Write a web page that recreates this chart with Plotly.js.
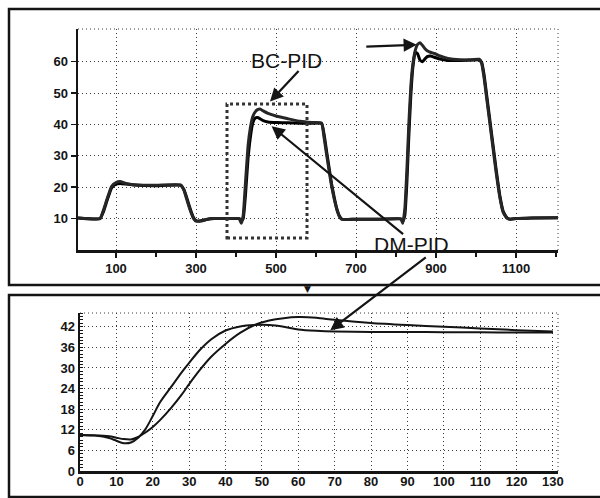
<!DOCTYPE html>
<html>
<head>
<meta charset="utf-8">
<script src="https://cdn.plot.ly/plotly-3.0.1.min.js"></script>
<style>html,body{margin:0;padding:0;background:#fff;}#chart{width:600px;height:498px;}</style>
</head>
<body>
<div id="chart"></div>
<script>
// ---- data: full run (top panel) ----
const topTime = [5, 60, 68, 77, 89, 100, 110, 125, 145, 200, 262, 270, 276, 282, 288, 294, 300, 312, 326, 345, 380, 408, 413, 418, 424, 430, 436, 442, 448, 454, 460, 468, 480, 502, 530, 560, 590, 614, 620, 627, 633, 639, 646, 652, 658, 664, 675, 700, 760, 812, 817, 822, 827, 832, 837, 842, 848, 854, 860, 866, 872, 878, 886, 896, 910, 930, 960, 990, 1008, 1014, 1020, 1027, 1035, 1043, 1050, 1060, 1068, 1077, 1086, 1100, 1140, 1205];
const topBC = [10.2, 10, 12.5, 16, 20.3, 21.5, 21.8, 21.2, 20.8, 20.6, 20.7, 19, 16.5, 14, 11.8, 10, 9.2, 9.2, 9.7, 10, 10, 10, 8.5, 11, 22, 33, 39, 42.5, 44, 44.7, 44.9, 44.3, 43.5, 42.6, 41.8, 41, 40.6, 40.4, 36, 30, 25, 20.3, 16, 12.9, 10.8, 9.8, 9.7, 9.8, 9.8, 9.9, 8.5, 13, 25, 40, 52, 59, 63.5, 65.5, 66, 65.2, 64.2, 63.5, 63, 62.6, 61.8, 61, 60.6, 60.6, 60.8, 59.5, 55, 48, 40, 32, 25, 16.5, 12, 10.2, 9.8, 10, 10.2, 10.3];
const topDM = [10.2, 10, 12, 15.5, 19.8, 21, 21.2, 21, 20.7, 20.5, 20.6, 19.2, 17, 14.5, 12.2, 10.3, 9.4, 9.3, 9.7, 10, 10, 10, 9.2, 10, 18, 29, 36, 40.5, 42, 42.2, 41.8, 41.2, 40.8, 40.6, 40.5, 40.4, 40.4, 40.3, 37, 31, 26, 21, 16.5, 13.2, 11, 9.9, 9.7, 9.8, 9.8, 9.9, 9.2, 11, 21, 36, 49, 58, 63, 62.5, 60.5, 60, 60.8, 61.6, 61.8, 61.4, 60.8, 60.4, 60.4, 60.5, 60.6, 59.8, 56, 49, 41, 33, 26, 17, 12.3, 10.3, 9.8, 10, 10.2, 10.3];

// ---- data: zoomed step (bottom panel) ----
const zoomTime = [0, 4, 8, 10, 12, 14, 16, 18, 20, 22, 25, 28, 30, 33, 36, 40, 44, 48, 52, 56, 60, 65, 70, 80, 90, 100, 110, 120, 130];
const zoomBC = [10.5, 10.4, 10.1, 9.7, 9.3, 9.2, 9.9, 11.2, 12.8, 14.8, 18.3, 22.3, 25.3, 29.5, 33.2, 37, 40.2, 42.5, 43.8, 44.5, 44.8, 44.6, 44.0, 43.1, 42.5, 42.0, 41.5, 41.0, 40.6];
const zoomDM = [10.5, 10.3, 9.6, 8.8, 8.1, 8.3, 9.7, 12.2, 16.0, 20.0, 24.4, 28.8, 31.5, 35.3, 38.3, 40.9, 42.1, 42.5, 42.5, 42.0, 41.2, 40.8, 40.6, 40.5, 40.5, 40.4, 40.4, 40.3, 40.3];

// ---- tick labels ----
const topXTicks = [100, 300, 500, 700, 900, 1100];
const topYTicks = [10, 20, 30, 40, 50, 60];
const zoomXTicks = [0, 10, 20, 30, 40, 50, 60, 70, 80, 90, 100, 110, 120, 130];
const zoomYTicks = [0, 6, 12, 18, 24, 30, 36, 42];

const ink = '#141414';
const gridCol = '#3a3a3a';
const gridDash = '1px,3px';
const tickFont = {family: 'Liberation Sans, Arial, sans-serif', size: 13, weight: 'bold', color: ink};
const labelFont = {family: 'Liberation Sans, Arial, sans-serif', size: 21, color: ink};

function px2x(p) { return p / 600; }
function px2y(p) { return 1 - p / 498; }

const traces = [
  {x: topTime, y: topDM, xaxis: 'x', yaxis: 'y', mode: 'lines', name: 'DM-PID',
   line: {color: '#000', width: 3, shape: 'spline', smoothing: 0.4}},
  {x: topTime, y: topBC, xaxis: 'x', yaxis: 'y', mode: 'lines', name: 'BC-PID',
   line: {color: '#262626', width: 3, shape: 'spline', smoothing: 0.4}},
  {x: zoomTime, y: zoomBC, xaxis: 'x2', yaxis: 'y2', mode: 'lines', name: 'BC-PID',
   line: {color: ink, width: 2, shape: 'spline', smoothing: 0.8}},
  {x: zoomTime, y: zoomDM, xaxis: 'x2', yaxis: 'y2', mode: 'lines', name: 'DM-PID',
   line: {color: ink, width: 2, shape: 'spline', smoothing: 0.8}}
];

const axisCommon = {
  showline: true, linewidth: 2.5, linecolor: ink, zeroline: false,
  showgrid: true, gridcolor: gridCol, gridwidth: 1, griddash: gridDash,
  ticks: 'outside', ticklen: 5, tickwidth: 1.5, tickcolor: ink,
  tickfont: tickFont, fixedrange: true
};

const layout = {
  width: 600, height: 498,
  margin: {l: 0, r: 0, t: 0, b: 0},
  paper_bgcolor: '#fff', plot_bgcolor: '#fff',
  showlegend: false,
  xaxis: Object.assign({}, axisCommon, {
    domain: [px2x(78), px2x(558)], anchor: 'y', range: [5, 1205],
    tickmode: 'array', tickvals: topXTicks,
    minor: {dtick: 100, tick0: 0, ticks: 'outside', ticklen: 4, tickwidth: 1.5, tickcolor: ink, showgrid: false}
  }),
  yaxis: Object.assign({}, axisCommon, {
    domain: [px2y(250), px2y(29)], anchor: 'x', range: [0, 70.4],
    tickmode: 'array', tickvals: topYTicks
  }),
  xaxis2: Object.assign({}, axisCommon, {
    domain: [px2x(80), px2x(558)], anchor: 'y2', range: [0, 131.4],
    tickmode: 'array', tickvals: zoomXTicks, ticks: '', ticklen: 0, ticklabelstandoff: -3
  }),
  yaxis2: Object.assign({}, axisCommon, {
    domain: [px2y(471), px2y(313)], anchor: 'x2', range: [0, 46],
    tickmode: 'array', tickvals: zoomYTicks, ticks: '', ticklen: 0,
    minor: {dtick: 1, ticks: 'inside', ticklen: 3, tickwidth: 1, tickcolor: ink, showgrid: false}
  }),
  shapes: [
    // panel frames
    {type: 'rect', xref: 'paper', yref: 'paper', x0: px2x(9), x1: 1.02, y0: px2y(285), y1: px2y(9),
     line: {color: ink, width: 2.5}},
    {type: 'rect', xref: 'paper', yref: 'paper', x0: px2x(9), x1: 1.02, y0: px2y(497), y1: px2y(295),
     line: {color: ink, width: 2.5}},
    // dotted top/right borders of plot areas
    {type: 'line', xref: 'x domain', yref: 'y domain', x0: 0, x1: 1, y0: 1, y1: 1, line: {color: gridCol, width: 1, dash: gridDash}},
    {type: 'line', xref: 'x domain', yref: 'y domain', x0: 1, x1: 1, y0: 0, y1: 1, line: {color: gridCol, width: 1, dash: gridDash}},
    {type: 'line', xref: 'x2 domain', yref: 'y2 domain', x0: 0, x1: 1, y0: 1, y1: 1, line: {color: gridCol, width: 1, dash: gridDash}},
    {type: 'line', xref: 'x2 domain', yref: 'y2 domain', x0: 1, x1: 1, y0: 0, y1: 1, line: {color: gridCol, width: 1, dash: gridDash}},
    // dotted zoom box
    {type: 'rect', xref: 'x', yref: 'y', x0: 377.5, x1: 577.5, y0: 3.8, y1: 46.5,
     line: {color: '#333', width: 3, dash: 'dot'}}
  ],
  annotations: [
    {text: 'BC-PID', xref: 'paper', yref: 'paper', x: px2x(286), y: px2y(47), showarrow: false, font: labelFont},
    {text: 'DM-PID', xref: 'paper', yref: 'paper', x: px2x(451), y: px2y(244), showarrow: false, font: labelFont},
    {text: '', xref: 'x', yref: 'y', x: 485, y: 47.3, ax: 30, ay: -32, showarrow: true,
     arrowhead: 2, arrowsize: 1.2, arrowwidth: 2.2, arrowcolor: ink},
    {text: '', xref: 'x', yref: 'y', x: 489, y: 39.4, ax: 133, ay: 109, showarrow: true,
     arrowhead: 2, arrowsize: 1.2, arrowwidth: 2.2, arrowcolor: ink},
    {text: '', xref: 'x2', yref: 'y2', x: 68.8, y: 41, ax: 97, ay: -74, showarrow: true,
     arrowhead: 2, arrowsize: 1.2, arrowwidth: 2.2, arrowcolor: ink},
    {text: '', xref: 'x', yref: 'y', x: 852, y: 65.4, ax: -52, ay: 2, showarrow: true,
     arrowhead: 2, arrowsize: 1.2, arrowwidth: 2.2, arrowcolor: ink},
    {text: '▼', xref: 'paper', yref: 'paper', x: px2x(307), y: px2y(289), showarrow: false,
     font: {family: 'DejaVu Sans', size: 9, color: ink}}
  ]
};

Plotly.newPlot('chart', traces, layout, {staticPlot: true, displayModeBar: false});
</script>
</body>
</html>
